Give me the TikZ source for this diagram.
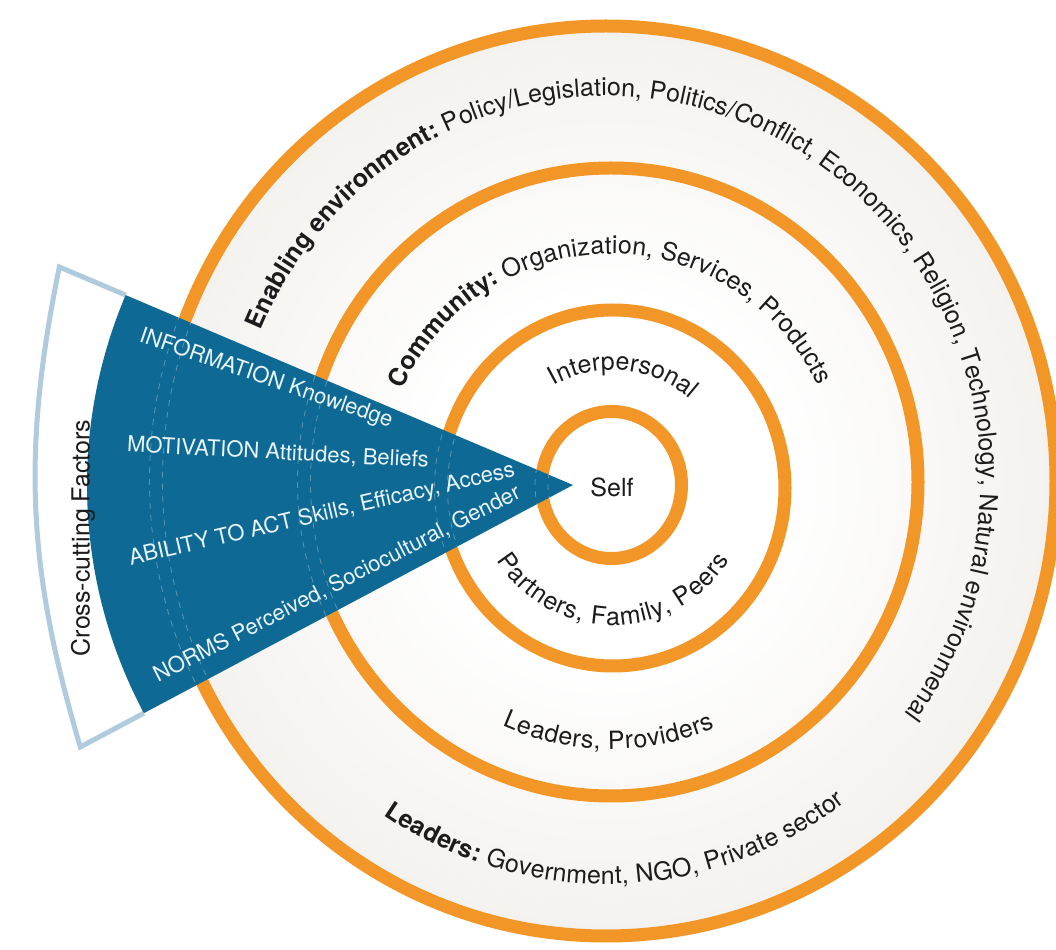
\documentclass[tikz,border=0pt]{standalone}
\usepackage{fontspec}
\setmainfont{TeX Gyre Heros}
\usetikzlibrary{decorations.text}
\definecolor{ringOrange}{RGB}{242,150,40}
\definecolor{wedgeBlue}{RGB}{14,106,148}
\definecolor{frameBlue}{RGB}{176,202,222}
\definecolor{bandBeige}{RGB}{233,230,223}
\definecolor{bandMid}{RGB}{243,241,237}
\definecolor{labelInk}{RGB}{28,28,28}
\definecolor{factorInk}{RGB}{232,244,250}
\newcommand\ringsize{\fontsize{12.5}{15}\selectfont}
\pgfdeclareradialshading{bandshade}{\pgfpointorigin}{color(0bp)=(white); color(10bp)=(white); color(26bp)=(bandMid); color(50bp)=(bandBeige)}

\begin{document}
\begin{tikzpicture}[x=0.5pt, y=0.5pt,
    ring/.style={draw=ringOrange, line width=6.5pt},
    seam/.style={draw=white, opacity=0.3, line width=0.4pt, dashed},
    band/.style={decorate, decoration={text along path, text color=labelInk, text align=fit to path}},
    factor/.style={text=factorInk, font=\fontsize{11}{13}\selectfont, inner sep=0pt},
    frame/.style={draw=frameBlue, line width=2.5pt}
]
\useasboundingbox (0,0) rectangle (1056,949);
\fill[white] (0,0) rectangle (1056,949);

\coordinate (envc) at (606,468);
\coordinate (commc) at (611,467);
\coordinate (interc) at (613,461);
\coordinate (selfc) at (611.5,464);
\coordinate (tip) at (573,464);

% the four rings
\fill[shading=bandshade] (envc) ellipse [x radius=450, y radius=455];
\draw[ring] (envc) ellipse [x radius=450, y radius=455];
\draw[ring] (commc) ellipse [x radius=307, y radius=314];
\draw[ring] (interc) ellipse [x radius=172, y radius=178];
\draw[ring] (selfc) ellipse [x radius=70, y radius=73.5];

% labels running round the bands
\path[band, decoration={text={|\ringsize\bfseries|Enabling environment:|\ringsize\mdseries| Policy/Legislation, Politics/Conflict, Economics, Religion, Technology, Natural environmenal}}]
    (envc) ++(157:375 and 385) arc[start angle=157, end angle=-37, x radius=375, y radius=385];
\path[band, decoration={text={|\ringsize\bfseries|Leaders:|\ringsize\mdseries| Government, NGO, Private sector}}]
    (envc) ++(236:397 and 403) arc[start angle=236, end angle=307, x radius=397, y radius=403];
\path[band, decoration={text={|\ringsize\bfseries|Community:|\ringsize\mdseries| Organization, Services, Products}}]
    (commc) ++(156:228) arc[start angle=156, end angle=25, radius=228];
\path[band, decoration={text={|\ringsize|Leaders, Providers}}]
    (commc) ++(246:267) arc[start angle=246, end angle=293, radius=267];
\path[band, decoration={text={|\ringsize|Interpersonal}}]
    (interc) ++(120:118) arc[start angle=120, end angle=50, radius=118];
\path[band, decoration={text={|\ringsize|Partners, Family, Peers}}]
    (interc) ++(212:137) arc[start angle=212, end angle=328, radius=137];
\node[text=labelInk, font=\ringsize] (self) at (612,462) {Self};

% cross-cutting wedge
\path (tip) ++(157:486) coordinate (wtop) (tip) ++(208:486) coordinate (wbot);
\path (tip) ++(157:558) coordinate (ftop) (tip) ++(208:558) coordinate (fbot);
\draw[frame] (wtop) -- (ftop) to[bend right=14] (fbot) -- (wbot);
\fill[wedgeBlue] (tip) -- (wtop) arc[start angle=157, end angle=208, radius=486] -- cycle;
\begin{scope}
\clip (tip) -- (wtop) arc[start angle=157, end angle=208, radius=486] -- cycle;
\foreach \c/\rx/\ry in {envc/450/455, commc/307/314, interc/172/178, selfc/70/73.5}
  \foreach \d in {-6.5,6.5}
    \draw[seam] (\c) ellipse [x radius=\rx+\d, y radius=\ry+\d];
\end{scope}

\node[factor, rotate=-19] (info) at (266,570) {INFORMATION Knowledge};
\node[factor, rotate=-3] (motiv) at (278,496) {MOTIVATION Attitudes, Beliefs};
\node[factor, rotate=13] (ability) at (322,434) {ABILITY TO ACT Skills, Efficacy, Access};
\node[factor, rotate=27] (norms) at (337,365) {NORMS Perceived, Sociocultural, Gender};
\node[text=labelInk, font=\fontsize{12.5}{15}\selectfont, rotate=90] (crosscut) at (83,411) {Cross-cutting Factors};
\end{tikzpicture}
\end{document}
